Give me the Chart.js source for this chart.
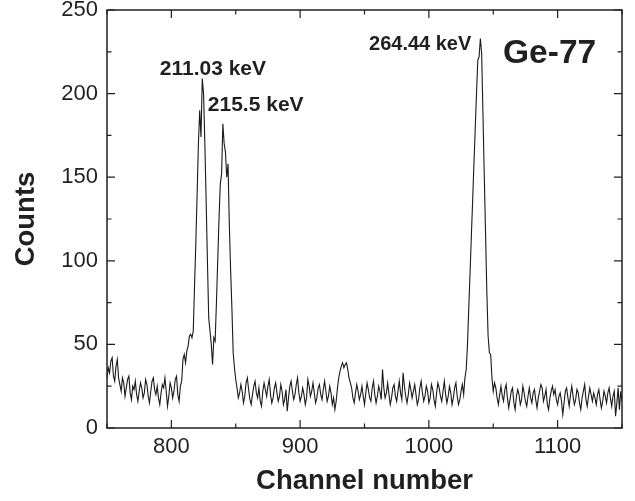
<!DOCTYPE html>
<html><head><meta charset="utf-8">
<script src="https://cdn.jsdelivr.net/npm/chart.js@4/dist/chart.umd.min.js"></script>
<style>html,body{margin:0;padding:0;background:#fff;}#wrap{width:635px;height:501px;}</style>
</head><body><div id="wrap"><canvas id="c" width="635" height="501"></canvas></div>
<script>
// ---- data ----
const firstChannel = 750;
const counts = [
  30, 36, 33, 40, 42, 31, 28, 37, 41, 30,
  26, 22, 30, 27, 19, 24, 29, 31, 21, 17,
  25, 23, 28, 20, 16, 22, 27, 24, 18, 21,
  29, 26, 19, 15, 22, 28, 30, 23, 20, 25,
  18, 14, 21, 26, 24, 30, 22, 13, 19, 27,
  24, 18, 22, 29, 31, 20, 16, 25, 28, 41,
  44, 39, 46, 49, 55, 56, 54, 58, 85, 111,
  140, 170, 190, 174, 209, 200, 170, 136, 100, 66,
  58, 50, 38, 54, 52, 75, 100, 125, 146, 152,
  182, 170, 165, 150, 158, 122, 95, 72, 45, 36,
  29, 24, 18, 21, 26, 22, 15, 19, 27, 30,
  23, 17, 14, 20, 25, 28, 21, 18, 24, 16,
  13, 22, 27, 23, 19, 25, 29, 20, 15, 18,
  24, 27, 21, 16, 19, 26, 22, 14, 17, 23,
  10, 18, 25, 28, 22, 17, 20, 26, 30, 21,
  16, 19, 24, 20, 14, 18, 29, 25, 19, 22,
  27, 21, 15, 18, 24, 26, 20, 17, 23, 28,
  22, 16, 19, 25, 21, 14, 18, 11, 16, 24,
  30, 34, 37, 39, 36, 38, 39, 35, 30, 27,
  24, 18, 15, 21, 26, 22, 17, 20, 25, 19,
  14, 21, 27, 23, 18, 16, 24, 28, 20, 15,
  19, 25, 22, 17, 35, 24, 18, 21, 27, 20,
  14, 18, 24, 26, 19, 16, 22, 28, 21, 17,
  33, 25, 19, 15, 20, 27, 23, 18, 22, 26,
  20, 14, 17, 24, 28, 21, 16, 19, 25, 22,
  15, 18, 26, 23, 17, 13, 21, 27, 24, 19,
  16, 22, 28, 20, 15, 19, 25, 21, 14, 18,
  24, 27, 19, 14, 17, 22, 26, 20, 30, 35,
  50, 72, 93, 115, 136, 158, 179, 200, 220, 222,
  233, 224, 188, 152, 117, 82, 55, 45, 44, 30,
  22, 27, 24, 18, 14, 20, 25, 19, 16, 23,
  26, 18, 12, 17, 22, 24, 15, 11, 19, 23,
  20, 14, 17, 25, 21, 16, 13, 19, 24, 18,
  15, 21, 23, 17, 12, 18, 22, 26, 24, 16,
  19, 23, 14, 11, 18, 22, 25, 20, 23, 17,
  14, 19, 21, 16, 8, 15, 22, 24, 18, 13,
  20, 25, 19, 14, 17, 23, 21, 15, 11, 18,
  22, 26, 17, 13, 19, 24, 20, 16, 21, 18,
  14, 20, 23, 17, 12, 16, 22, 19, 15, 21,
  24, 18, 13, 19, 22, 7, 15, 24, 11, 22,
  16
];
const xTickLabels = [800, 900, 1000, 1100];
const yTickLabels = [0, 50, 100, 150, 200, 250];
const xTitle = 'Channel number';
const yTitle = 'Counts';
const peakLabels = ['211.03 keV', '215.5 keV', '264.44 keV'];
const isotopeLabel = 'Ge-77';

// ---- layout / style (not data) ----
const FONT = "'Liberation Sans', Arial, Helvetica, sans-serif";
const INK = '#231f20';
const textMarks = [
  {text: peakLabels[0], x: 791, y: 211, size: 21},
  {text: peakLabels[1], x: 828.3, y: 189.5, size: 21},
  {text: peakLabels[2], x: 953.5, y: 226, size: 20},
  {text: isotopeLabel, x: 1057.6, y: 218.3, size: 33.5}
];

const framePlugin = {
  id: 'frame',
  afterDraw(chart) {
    const {ctx, chartArea: a, scales: {x, y}} = chart;
    ctx.save();
    ctx.strokeStyle = INK;
    ctx.lineWidth = 1.5;
    ctx.strokeRect(a.left, a.top, a.right - a.left, a.bottom - a.top);
    ctx.lineWidth = 1.2;
    ctx.beginPath();
    for (let v = x.min; v <= x.max; v += 50) {
      const px = x.getPixelForValue(v);
      const len = (v % 100 === 0) ? 8 : 4.5;
      ctx.moveTo(px, a.bottom); ctx.lineTo(px, a.bottom - len);
      ctx.moveTo(px, a.top); ctx.lineTo(px, a.top + len);
    }
    for (let v = y.min; v <= y.max; v += 25) {
      const py = y.getPixelForValue(v);
      const len = (v % 50 === 0) ? 8 : 4.5;
      ctx.moveTo(a.left, py); ctx.lineTo(a.left + len, py);
      ctx.moveTo(a.right, py); ctx.lineTo(a.right - len, py);
    }
    ctx.stroke();
    ctx.fillStyle = INK;
    ctx.textAlign = 'left';
    ctx.textBaseline = 'alphabetic';
    for (const m of textMarks) {
      ctx.font = 'bold ' + m.size + 'px ' + FONT;
      ctx.fillText(m.text, x.getPixelForValue(m.x), y.getPixelForValue(m.y));
    }
    ctx.restore();
  }
};

new Chart(document.getElementById('c'), {
  type: 'line',
  data: {
    datasets: [{
      data: counts.map((v, i) => ({x: firstChannel + i, y: v})),
      borderColor: '#1a1a1a',
      borderWidth: 1.1,
      pointRadius: 0,
      tension: 0,
      fill: false
    }]
  },
  options: {
    responsive: false,
    animation: false,
    devicePixelRatio: 1,
    layout: {padding: {left: 0, right: 13, top: 10, bottom: 0}},
    plugins: {legend: {display: false}, tooltip: {enabled: false}},
    scales: {
      x: {
        type: 'linear', position: 'bottom', min: 750, max: 1150,
        afterBuildTicks: s => { s.ticks = xTickLabels.map(v => ({value: v})); },
        afterFit: s => { s.height = 73; s.paddingLeft = 0; s.paddingRight = 0; },
        grid: {display: false, drawTicks: false},
        border: {display: false},
        ticks: {font: {family: FONT, size: 22}, color: INK, padding: 6, maxRotation: 0, autoSkip: false, callback: v => String(v)},
        title: {display: true, text: xTitle, color: INK, font: {family: FONT, size: 27.5, weight: 'bold'}, padding: {top: 0, bottom: 3}}
      },
      y: {
        type: 'linear', min: 0, max: 250,
        afterBuildTicks: s => { s.ticks = yTickLabels.map(v => ({value: v})); },
        afterFit: s => { s.width = 107; s.paddingTop = 0; s.paddingBottom = 0; },
        grid: {display: false, drawTicks: false},
        border: {display: false},
        ticks: {font: {family: FONT, size: 22}, color: INK, padding: 9, callback: v => String(v)},
        title: {display: true, text: yTitle, color: INK, font: {family: FONT, size: 27.5, weight: 'bold'}, padding: {top: 10, bottom: 0}}
      }
    }
  },
  plugins: [framePlugin]
});
</script>
</body></html>
